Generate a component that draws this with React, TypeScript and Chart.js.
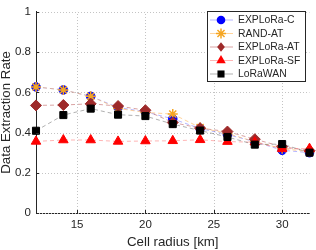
import React, { useEffect, useRef } from "react";
import { Chart, registerables } from "chart.js";

Chart.register(...registerables);

const radius = [12, 14, 16, 18, 20, 22, 24, 26, 28, 30, 32];
const explora_c = [0.627, 0.612, 0.58, 0.525, 0.503, 0.468, 0.42, 0.39, 0.355, 0.312, 0.3];
const rand_at = [0.627, 0.612, 0.58, 0.52, 0.5, 0.492, 0.425, 0.395, 0.355, 0.32, 0.305];
const explora_at = [0.535, 0.537, 0.543, 0.532, 0.511, 0.45, 0.422, 0.405, 0.367, 0.33, 0.31];
const explora_sf = [0.356, 0.363, 0.363, 0.356, 0.358, 0.359, 0.364, 0.355, 0.352, 0.32, 0.32];
const lorawan = [0.409, 0.487, 0.519, 0.489, 0.482, 0.442, 0.41, 0.378, 0.34, 0.343, 0.3];

const xTicks = [15, 20, 25, 30];
const xTickLabels = ["15", "20", "25", "30"];
const yTicks = [0, 0.2, 0.4, 0.6, 0.8, 1];
const yTickLabels = ["0", "0.2", "0.4", "0.6", "0.8", "1"];

const FONT = "'Liberation Sans', Arial, sans-serif";
const TXT = "#262626";

function drawMarker(ctx: CanvasRenderingContext2D, style: string, r: number, x: number, y: number) {
  ctx.beginPath();
  if (style === "circle") {
    ctx.arc(x, y, r, 0, Math.PI * 2);
    ctx.fill();
  } else if (style === "rect") {
    const s = r * Math.SQRT1_2;
    ctx.rect(x - s, y - s, 2 * s, 2 * s);
    ctx.fill();
  } else if (style === "rectRot") {
    const s = r * Math.SQRT1_2;
    ctx.moveTo(x - s, y);
    ctx.lineTo(x, y + s * 1.25);
    ctx.lineTo(x + s, y);
    ctx.lineTo(x, y - s * 1.25);
    ctx.closePath();
    ctx.fill();
  } else if (style === "triangle") {
    const a = (Math.PI * 2) / 3;
    ctx.moveTo(x, y - r);
    ctx.lineTo(x + Math.sin(a) * r, y - Math.cos(a) * r);
    ctx.lineTo(x + Math.sin(2 * a) * r, y - Math.cos(2 * a) * r);
    ctx.closePath();
    ctx.fill();
  } else if (style === "star") {
    for (let k = 0; k < 4; k++) {
      const ang = (k * Math.PI) / 4;
      ctx.moveTo(x + Math.cos(ang) * r, y + Math.sin(ang) * r);
      ctx.lineTo(x - Math.cos(ang) * r, y - Math.sin(ang) * r);
    }
    ctx.stroke();
  }
}

const gridPlugin = {
  id: "dotGrid",
  beforeDatasetsDraw(chart: any) {
    const ctx = chart.ctx;
    const { left, right, top, bottom } = chart.chartArea;
    const xs = chart.scales.x, ys = chart.scales.y;
    ctx.save();
    ctx.strokeStyle = "#c4c4c4";
    ctx.lineWidth = 1;
    ctx.setLineDash([1, 2]);
    ctx.beginPath();
    xTicks.forEach((v) => {
      const px = Math.round(xs.getPixelForValue(v)) + 0.5;
      ctx.moveTo(px, bottom);
      ctx.lineTo(px, top);
    });
    yTicks.forEach((v) => {
      const py = Math.round(ys.getPixelForValue(v)) + 0.5;
      ctx.moveTo(left, py);
      ctx.lineTo(right, py);
    });
    ctx.stroke();
    ctx.restore();
  },
};

const legendPlugin = {
  id: "boxLegend",
  afterDraw(chart: any) {
    const ctx = chart.ctx;
    const x0 = 207, y0 = 11, w = 98, h = 70;
    ctx.save();
    ctx.fillStyle = "#ffffff";
    ctx.fillRect(x0, y0, w, h);
    ctx.strokeStyle = TXT;
    ctx.lineWidth = 1;
    ctx.strokeRect(x0 + 0.5, y0 + 0.5, w, h);
    chart.data.datasets.forEach((ds: any, i: number) => {
      const cy = y0 + 9 + i * 13.5;
      ctx.save();
      ctx.strokeStyle = ds.borderColor;
      ctx.lineWidth = 1;
      ctx.beginPath();
      ctx.moveTo(x0 + 3, cy);
      ctx.lineTo(x0 + 26, cy);
      ctx.stroke();
      ctx.restore();
      ctx.save();
      ctx.fillStyle = ds.pointBackgroundColor;
      ctx.strokeStyle = ds.pointBorderColor;
      ctx.lineWidth = ds.pointBorderWidth;
      drawMarker(ctx, ds.pointStyle, ds.pointRadius, x0 + 14, cy);
      ctx.restore();
      ctx.fillStyle = TXT;
      ctx.font = `10.4px ${FONT}`;
      ctx.textBaseline = "middle";
      ctx.textAlign = "left";
      ctx.fillText(ds.label, x0 + 31, cy + 0.5);
    });
    ctx.restore();
  },
};

const tickMarkPlugin = {
  id: "inTicks",
  afterDatasetsDraw(chart: any) {
    const ctx = chart.ctx;
    const { left, bottom } = chart.chartArea;
    const xs = chart.scales.x, ys = chart.scales.y;
    ctx.save();
    ctx.strokeStyle = TXT;
    ctx.lineWidth = 1;
    ctx.beginPath();
    xTicks.forEach((v) => {
      const px = Math.round(xs.getPixelForValue(v)) + 0.5;
      ctx.moveTo(px, bottom);
      ctx.lineTo(px, bottom - 3);
    });
    yTicks.forEach((v) => {
      const py = Math.round(ys.getPixelForValue(v)) + 0.5;
      ctx.moveTo(left, py);
      ctx.lineTo(left + 3, py);
    });
    ctx.stroke();
    ctx.restore();
  },
};

function mk(label: string, data: number[], line: string, fill: string, stroke: string, style: string, r: number, order: number, bw = 1) {
  return {
    label,
    data: radius.map((x, i) => ({ x, y: data[i] })),
    borderColor: line,
    borderWidth: 1,
    borderDash: [4, 3],
    pointStyle: style,
    pointRadius: r,
    pointBackgroundColor: fill,
    pointBorderColor: stroke,
    pointBorderWidth: bw,
    order,
    clip: false,
    tension: 0,
  };
}

export default function App() {
  const ref = useRef<HTMLCanvasElement>(null);
  useEffect(() => {
    const chart = new Chart(ref.current as HTMLCanvasElement, {
      type: "line",
      data: {
        datasets: [
          mk("EXPLoRa-C", explora_c, "rgba(90,90,255,0.45)", "#0000ff", "#0000ff", "circle", 4.3, 4),
          mk("RAND-AT", rand_at, "rgba(255,170,60,0.5)", "#f5a623", "#f5a623", "star", 5, 3, 1.5),
          mk("EXPLoRa-AT", explora_at, "rgba(170,50,50,0.45)", "#9e2a2a", "#9e2a2a", "rectRot", 5.5, 2),
          mk("EXPLoRa-SF", explora_sf, "rgba(255,90,90,0.45)", "#ff0000", "#ff0000", "triangle", 5.5, 1),
          mk("LoRaWAN", lorawan, "rgba(80,80,80,0.45)", "#000000", "#000000", "rect", 5, 0),
        ] as any,
      },
      options: {
        responsive: false,
        animation: false,
        layout: { padding: { top: 5, right: 5, left: 0, bottom: 0 } },
        plugins: { legend: { display: false }, tooltip: { enabled: false } },
        scales: {
          x: {
            type: "linear",
            min: 12,
            max: 32,
            afterBuildTicks: (s: any) => { s.ticks = xTicks.map((value) => ({ value })); },
            afterFit: (s: any) => { s.height = 37; },
            ticks: {
              callback: (_v: any, i: number) => xTickLabels[i],
              color: TXT,
              font: { family: FONT, size: 11.5 },
              padding: 5,
              maxRotation: 0,
            },
            grid: { drawOnChartArea: false, drawTicks: false },
            border: { display: true, color: TXT, width: 1 },
            title: { display: true, text: "Cell radius [km]", color: TXT, font: { family: FONT, size: 13.3, lineHeight: 1.1 }, padding: { top: 0, bottom: 0 } },
          },
          y: {
            type: "linear",
            min: 0,
            max: 1,
            afterBuildTicks: (s: any) => { s.ticks = yTicks.map((value) => ({ value })); },
            afterFit: (s: any) => { s.width = 36; },
            ticks: {
              callback: (_v: any, i: number) => yTickLabels[i],
              color: TXT,
              font: { family: FONT, size: 11.5 },
              padding: 5,
            },
            grid: { drawOnChartArea: false, drawTicks: false },
            border: { display: true, color: TXT, width: 1 },
            title: { display: true, text: "Data Extraction Rate", color: TXT, font: { family: FONT, size: 13.3, lineHeight: 1 }, padding: { top: 0, bottom: 0 } },
          },
        },
      },
      plugins: [gridPlugin, tickMarkPlugin, legendPlugin],
    } as any);
    return () => chart.destroy();
  }, []);
  return (
    <div style={{ position: "absolute", left: 0, top: 0, width: 316, height: 250, background: "#fff" }}>
      <canvas ref={ref} width={316} height={250} style={{ display: "block" }} />
    </div>
  );
}
